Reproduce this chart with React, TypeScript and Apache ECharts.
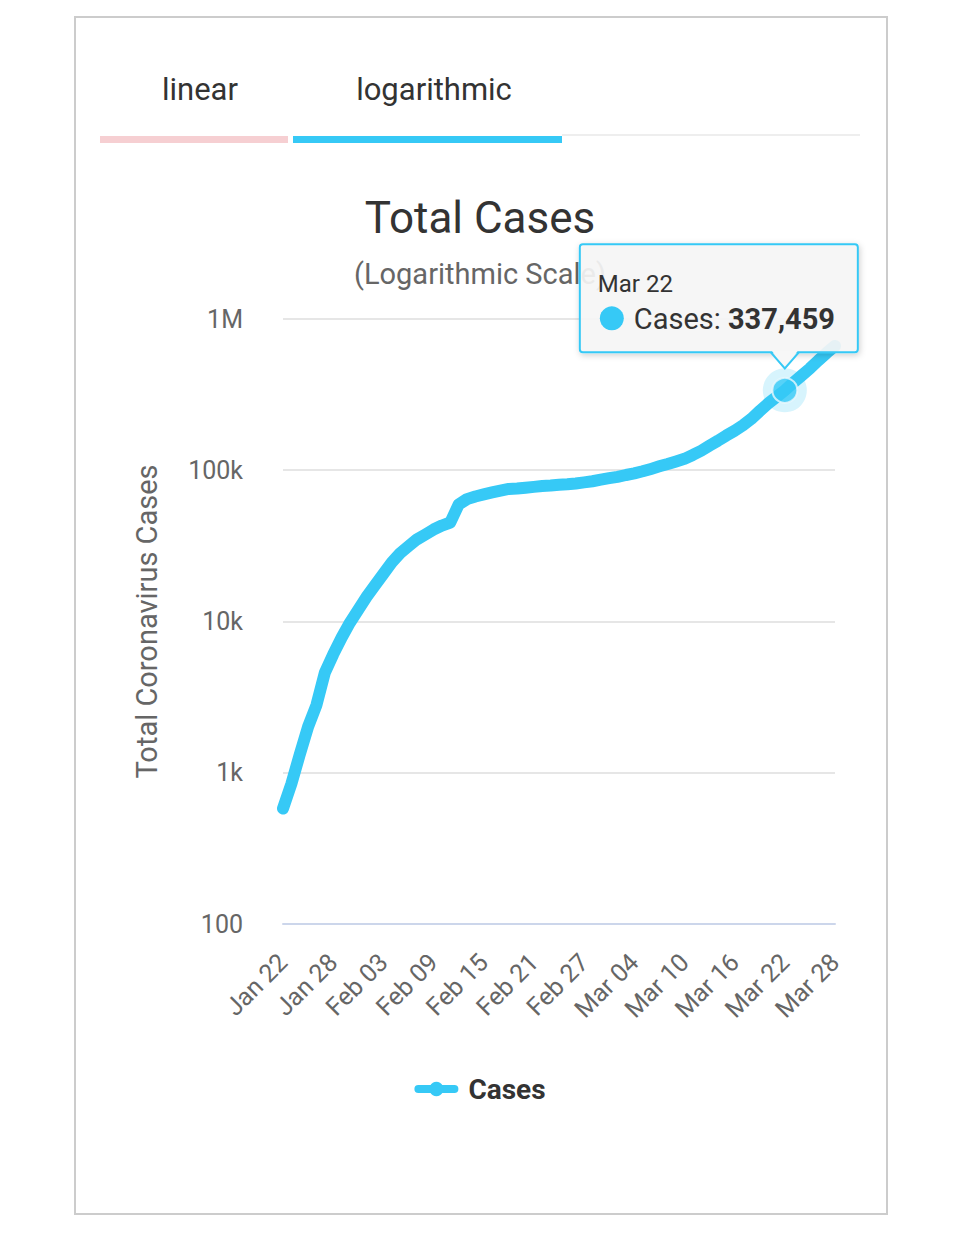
import React, { useEffect, useRef } from 'react';
import * as echarts from 'echarts';

const dates = [
  'Jan 22', 'Jan 23', 'Jan 24', 'Jan 25', 'Jan 26', 'Jan 27', 'Jan 28', 'Jan 29', 'Jan 30', 'Jan 31',
  'Feb 01', 'Feb 02', 'Feb 03', 'Feb 04', 'Feb 05', 'Feb 06', 'Feb 07', 'Feb 08', 'Feb 09', 'Feb 10',
  'Feb 11', 'Feb 12', 'Feb 13', 'Feb 14', 'Feb 15', 'Feb 16', 'Feb 17', 'Feb 18', 'Feb 19', 'Feb 20',
  'Feb 21', 'Feb 22', 'Feb 23', 'Feb 24', 'Feb 25', 'Feb 26', 'Feb 27', 'Feb 28', 'Feb 29',
  'Mar 01', 'Mar 02', 'Mar 03', 'Mar 04', 'Mar 05', 'Mar 06', 'Mar 07', 'Mar 08', 'Mar 09', 'Mar 10',
  'Mar 11', 'Mar 12', 'Mar 13', 'Mar 14', 'Mar 15', 'Mar 16', 'Mar 17', 'Mar 18', 'Mar 19', 'Mar 20',
  'Mar 21', 'Mar 22', 'Mar 23', 'Mar 24', 'Mar 25', 'Mar 26', 'Mar 27', 'Mar 28',
];

const cases = [
  580, 845, 1317, 2015, 2800, 4581, 6058, 7813, 9823, 11950,
  14553, 17391, 20630, 24545, 28266, 31439, 34876, 37552, 40553, 43099,
  45134, 59287, 64438, 67100, 69197, 71329, 73332, 75184, 75700, 76677,
  77673, 78651, 79205, 80087, 80828, 81820, 83112, 84615, 86604,
  88585, 90443, 93016, 95314, 98425, 102050, 106099, 109991, 114381, 118948,
  126214, 134576, 145483, 156653, 169593, 182490, 198238, 218822, 246417, 275946,
  305036, 337459, 378830, 422574, 471035, 531865, 596366, 663740,
];

const yTickValues = [100, 1000, 10000, 100000, 1000000];
const yTickLabels = ['100', '1k', '10k', '100k', '1M'];
const tabs = ['linear', 'logarithmic'];
const highlightIndex = 60;
const seriesName = 'Cases';

export default function App() {
  const ref = useRef<HTMLDivElement>(null);

  useEffect(() => {
    const chart = echarts.init(ref.current as HTMLDivElement, null, { renderer: 'svg' });
    const blue = '#36c9f6';
    const font = 'Roboto';

    chart.setOption({
      animation: false,
      backgroundColor: '#ffffff',
      textStyle: { fontFamily: font },
      title: [
        {
          text: 'Total Cases',
          left: 'center',
          top: 191,
          z: 2,
          textStyle: { fontSize: 44, fontWeight: 'normal', color: '#333333', fontFamily: font },
        },
        {
          text: '(Logarithmic Scale)',
          left: 'center',
          top: 254,
          z: 2,
          textStyle: { fontSize: 29, fontWeight: 'normal', color: '#666666', fontFamily: font },
        },
      ],
      legend: {
        data: [seriesName],
        left: 'center',
        top: 1070,
        itemWidth: 36,
        itemHeight: 18,
        lineStyle: { width: 8 },
        textStyle: {
          fontSize: 28,
          fontWeight: 'bold',
          color: '#333333',
          fontFamily: font,
          padding: [0, 0, 0, 9],
        },
      },
      grid: { left: 283, right: 125, top: 319, bottom: 313, containLabel: false },
      xAxis: {
        type: 'category',
        data: dates,
        boundaryGap: false,
        axisLine: { show: true, lineStyle: { color: '#ccd6eb', width: 2 } },
        axisTick: { show: false },
        axisLabel: {
          interval: 5,
          rotate: 45,
          margin: 34,
          fontSize: 25,
          color: '#666666',
          fontFamily: font,
        },
        splitLine: { show: false },
      },
      yAxis: {
        type: 'log',
        logBase: 10,
        min: yTickValues[0],
        max: yTickValues[yTickValues.length - 1],
        name: 'Total Coronavirus Cases',
        nameLocation: 'middle',
        nameGap: 122,
        nameTextStyle: { fontSize: 29, color: '#666666', fontFamily: font },
        axisLine: { show: false },
        axisTick: { show: false },
        axisLabel: {
          margin: 40,
          fontSize: 25,
          color: '#666666',
          fontFamily: font,
          formatter: (v: number) => {
            const i = yTickValues.findIndex((t) => Math.abs(t - v) / t < 1e-6);
            return i >= 0 ? yTickLabels[i] : '';
          },
        },
        splitLine: { show: true, lineStyle: { color: '#e6e6e6', width: 2 } },
      },
      series: [
        {
          name: seriesName,
          type: 'line',
          data: cases,
          symbol: 'circle',
          showSymbol: false,
          lineStyle: { color: blue, width: 12, cap: 'round', join: 'round' },
          itemStyle: { color: blue },
          z: 2,
        },
        {
          name: 'halo',
          type: 'scatter',
          data: [[dates[highlightIndex], cases[highlightIndex]]],
          symbolSize: 44,
          itemStyle: { color: 'rgba(54,201,246,0.25)' },
          silent: true,
          z: 3,
        },
        {
          name: 'point',
          type: 'scatter',
          data: [[dates[highlightIndex], cases[highlightIndex]]],
          symbolSize: 25,
          itemStyle: { color: blue, borderColor: '#eaf8fd', borderWidth: 2 },
          silent: true,
          z: 4,
        },
      ],
    });

    const [px, py] = chart.convertToPixel({ xAxisIndex: 0, yAxisIndex: 0 }, [
      highlightIndex,
      cases[highlightIndex],
    ]) as number[];

    const boxX = px - 205;
    const boxY = py - 146;
    const boxW = 278;
    const boxH = 108;
    const boxBottom = boxY + boxH;
    const boxFill = 'rgba(247,247,247,0.9)';
    const TZ = 100;

    chart.setOption({
      graphic: [
        {
          type: 'rect',
          shape: { x: 75, y: 17, width: 812, height: 1197 },
          style: { fill: 'none', stroke: '#cccccc', lineWidth: 2 },
          z: 0,
          silent: true,
        },
        {
          type: 'text',
          style: {
            x: 200,
            y: 89,
            text: tabs[0],
            fill: '#333333',
            font: `31px ${font}`,
            align: 'center',
            verticalAlign: 'middle',
          },
        },
        {
          type: 'text',
          style: {
            x: 434,
            y: 89,
            text: tabs[1],
            fill: '#333333',
            font: `31px ${font}`,
            align: 'center',
            verticalAlign: 'middle',
          },
        },
        {
          type: 'rect',
          shape: { x: 562, y: 134, width: 298, height: 2 },
          style: { fill: '#eeeeee' },
        },
        {
          type: 'rect',
          shape: { x: 100, y: 136, width: 188, height: 7 },
          style: { fill: '#f6cfd2' },
        },
        {
          type: 'rect',
          shape: { x: 293, y: 136, width: 269, height: 7 },
          style: { fill: blue },
        },
        {
          type: 'rect',
          z: TZ,
          shape: { x: boxX, y: boxY, width: boxW, height: boxH, r: 3 },
          style: {
            fill: boxFill,
            stroke: blue,
            lineWidth: 2,
            shadowBlur: 6,
            shadowOffsetX: 1,
            shadowOffsetY: 2,
            shadowColor: 'rgba(0,0,0,0.2)',
          },
        },
        {
          type: 'polygon',
          z: TZ + 1,
          shape: {
            points: [
              [px - 13, boxBottom - 1.5],
              [px, py - 22],
              [px + 13, boxBottom - 1.5],
            ],
          },
          style: { fill: '#f7f7f7' },
        },
        {
          type: 'polyline',
          z: TZ + 2,
          shape: {
            points: [
              [px - 14, boxBottom],
              [px, py - 22],
              [px + 14, boxBottom],
            ],
          },
          style: { stroke: blue, lineWidth: 2, fill: 'none' },
        },
        {
          type: 'text',
          z: TZ + 3,
          style: {
            x: boxX + 18,
            y: boxY + 40,
            text: dates[highlightIndex],
            fill: '#333333',
            font: `24px ${font}`,
            verticalAlign: 'middle',
          },
        },
        {
          type: 'circle',
          z: TZ + 3,
          shape: { cx: boxX + 32, cy: boxY + 74, r: 12 },
          style: { fill: blue },
        },
        {
          type: 'text',
          z: TZ + 3,
          style: {
            x: boxX + 54,
            y: boxY + 75,
            text: `{a|${seriesName}: }{b|${cases[highlightIndex].toLocaleString('en-US')}}`,
            verticalAlign: 'middle',
            rich: {
              a: { fontSize: 29, fill: '#333333', fontFamily: font },
              b: { fontSize: 29, fill: '#333333', fontWeight: 'bold', fontFamily: font },
            },
          },
        },
      ],
    });

    return () => chart.dispose();
  }, []);

  return (
    <div
      ref={ref}
      style={{ position: 'absolute', left: 0, top: 0, width: 960, height: 1237 }}
    />
  );
}
